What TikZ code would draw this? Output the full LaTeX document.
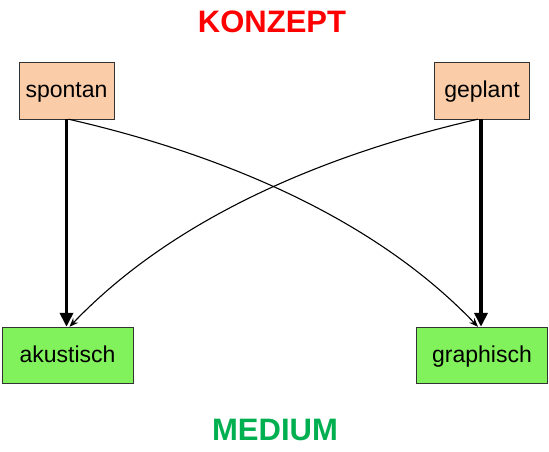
\documentclass[tikz,border=0pt]{standalone}
\usepackage{fontspec}
\setmainfont{Liberation Sans}
\usetikzlibrary{arrows.meta}
\definecolor{peach}{RGB}{250,204,168}
\definecolor{lgreen}{RGB}{130,242,92}
\definecolor{mgreen}{RGB}{0,176,80}

\begin{document}
\begin{tikzpicture}[x=1pt,y=-1pt,
  KON/.style={rectangle, draw=black!80, fill=peach, thin, minimum width=95pt, minimum height=57pt, inner sep=0pt, text height=19pt, text depth=5pt, font=\fontsize{23}{27}\selectfont},
  MED/.style={rectangle, draw=black!80, fill=lgreen, thin, minimum width=131pt, minimum height=56pt, inner sep=0pt, text height=19pt, text depth=4pt, font=\fontsize{23}{27}\selectfont},
  title/.style={font=\fontsize{31}{36}\selectfont\bfseries},]
\useasboundingbox (0,0) rectangle (549,452);
%Nodes
\node[title, text=red] (k) at (272,22) {KONZEPT};
\node[KON] (1) at (66.5,90.5) {spontan};
\node[KON] (2) at (482,90.5) {geplant};
\node[MED] (3) at (67.5,355) {akustisch};
\node[MED] (4) at (482,355) {graphisch};
\node[title, text=mgreen] (m) at (275,430) {MEDIUM};

%Lines
\draw[-{Stealth[length=9pt, width=7pt]}, line width=1.1pt] ([xshift=2pt]1.south) .. controls +(140,32) and +(-110,-115) .. ([xshift=-4pt]4.north);
\draw[-{Stealth[length=9pt, width=7pt]}, line width=1.1pt] ([xshift=-4pt]2.south) .. controls +(-140,32) and +(110,-115) .. ([xshift=2pt]3.north);
\draw[-{Triangle[length=14pt, width=13pt]}, line width=3.5pt] (1.south) to ([xshift=-1pt]3.north);
\draw[-{Triangle[length=14pt, width=13pt]}, line width=3.5pt] ([xshift=-1pt]2.south) to ([xshift=-1pt]4.north);

\end{tikzpicture}
\end{document}
